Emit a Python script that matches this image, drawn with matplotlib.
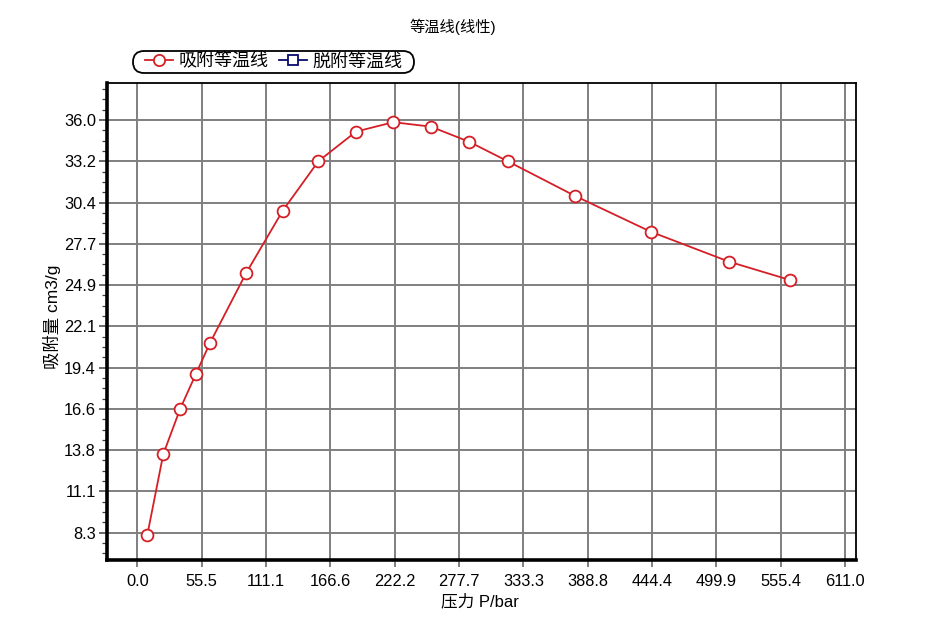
import matplotlib
matplotlib.use("Agg")
import matplotlib.pyplot as plt
from matplotlib.ticker import FixedLocator
from matplotlib.patches import FancyBboxPatch
from matplotlib.transforms import IdentityTransform

plt.rcParams['font.family'] = ['Liberation Sans', 'Noto Sans CJK SC', 'DejaVu Sans']

# Data
pressure = [8.6, 22.4, 36.9, 50.4, 62.8, 93.8, 125.5, 156.3, 188.8, 221.0,
            253.5, 286.3, 319.7, 377.9, 443.2, 510.8, 563.4]
adsorption = [8.15, 13.58, 16.6, 18.93, 21.05, 25.71, 29.91, 33.23, 35.22, 35.85,
              35.55, 34.54, 33.23, 30.9, 28.5, 26.49, 25.26]
desorption_p = []
desorption_q = []

x_tick_labels = ["0.0", "55.5", "111.1", "166.6", "222.2", "277.7", "333.3",
                 "388.8", "444.4", "499.9", "555.4", "611.0"]
y_tick_labels = ["8.3", "11.1", "13.8", "16.6", "19.4", "22.1", "24.9",
                 "27.7", "30.4", "33.2", "36.0"]
x_ticks = [i * 611.0 / 11 for i in range(len(x_tick_labels))]
y_ticks = [8.3 + i * 2.77 for i in range(len(y_tick_labels))]

W, H = 925, 622
fig = plt.figure(figsize=(W / 100, H / 100), dpi=100)
ax = fig.add_axes([107/W, 1-560/H, (856-107)/W, (560-83)/H])

red = '#d41f26'
navy = '#0a0a6e'
ax.plot(pressure, adsorption, color=red, lw=1.3, marker='o', ms=8.5,
        mfc='white', mec=red, mew=1.3, label='吸附等温线', zorder=3)
ax.plot(desorption_p, desorption_q, color=navy, lw=1.3, marker='s', ms=7,
        mfc='white', mec=navy, mew=1.3, label='脱附等温线')

ax.set_xlim(-26.2, 620.4)
ax.set_ylim(6.47, 38.48)

ax.xaxis.set_major_locator(FixedLocator(x_ticks))
ax.set_xticklabels(x_tick_labels)
ax.yaxis.set_major_locator(FixedLocator(y_ticks))
ax.set_yticklabels(y_tick_labels)
ax.yaxis.set_minor_locator(FixedLocator(
    [y_ticks[0] + k * 2.77 / 4 for k in range(-4, 48)]))

ax.grid(True, which='major', color='#7f7f7f', lw=1.4)
ax.set_axisbelow(True)
ax.tick_params(axis='x', which='major', length=5, width=1.4, color='#7f7f7f',
               labelsize=11.8, pad=5)
ax.tick_params(axis='y', which='major', length=6, width=1.2, color='#505050',
               labelsize=11.8, pad=2)
ax.tick_params(axis='y', which='minor', length=3.6, width=0.9, color='#404040')

for s in ['left', 'bottom']:
    ax.spines[s].set_linewidth(2.6)
for s in ['top', 'right']:
    ax.spines[s].set_linewidth(1.3)
for s in ax.spines.values():
    s.set_color('black')

fig.text(453/W, 1-27/H, '等温线(线性)', ha='center', va='center', fontsize=11)
fig.text(480/W, 1-601/H, '压力 P/bar', ha='center', va='center', fontsize=12)
fig.text(52/W, 1-317/H, '吸附量 cm3/g', ha='center', va='center',
         rotation=90, fontsize=12.5)

leg = ax.legend(loc='center', bbox_to_anchor=(274/W, 1-62/H),
                bbox_transform=fig.transFigure, ncol=2, fontsize=13,
                frameon=False, handlelength=1.55,
                handletextpad=0.3, columnspacing=0.6, borderpad=0.0,
                borderaxespad=0, markerscale=0.95)

box = FancyBboxPatch((133, H - 73), 281, 22,
                     boxstyle='round,pad=0,rounding_size=11',
                     transform=IdentityTransform(), facecolor='white',
                     edgecolor='black', lw=1.3, zorder=0)
fig.add_artist(box)

fig.savefig('out.png', dpi=100)
